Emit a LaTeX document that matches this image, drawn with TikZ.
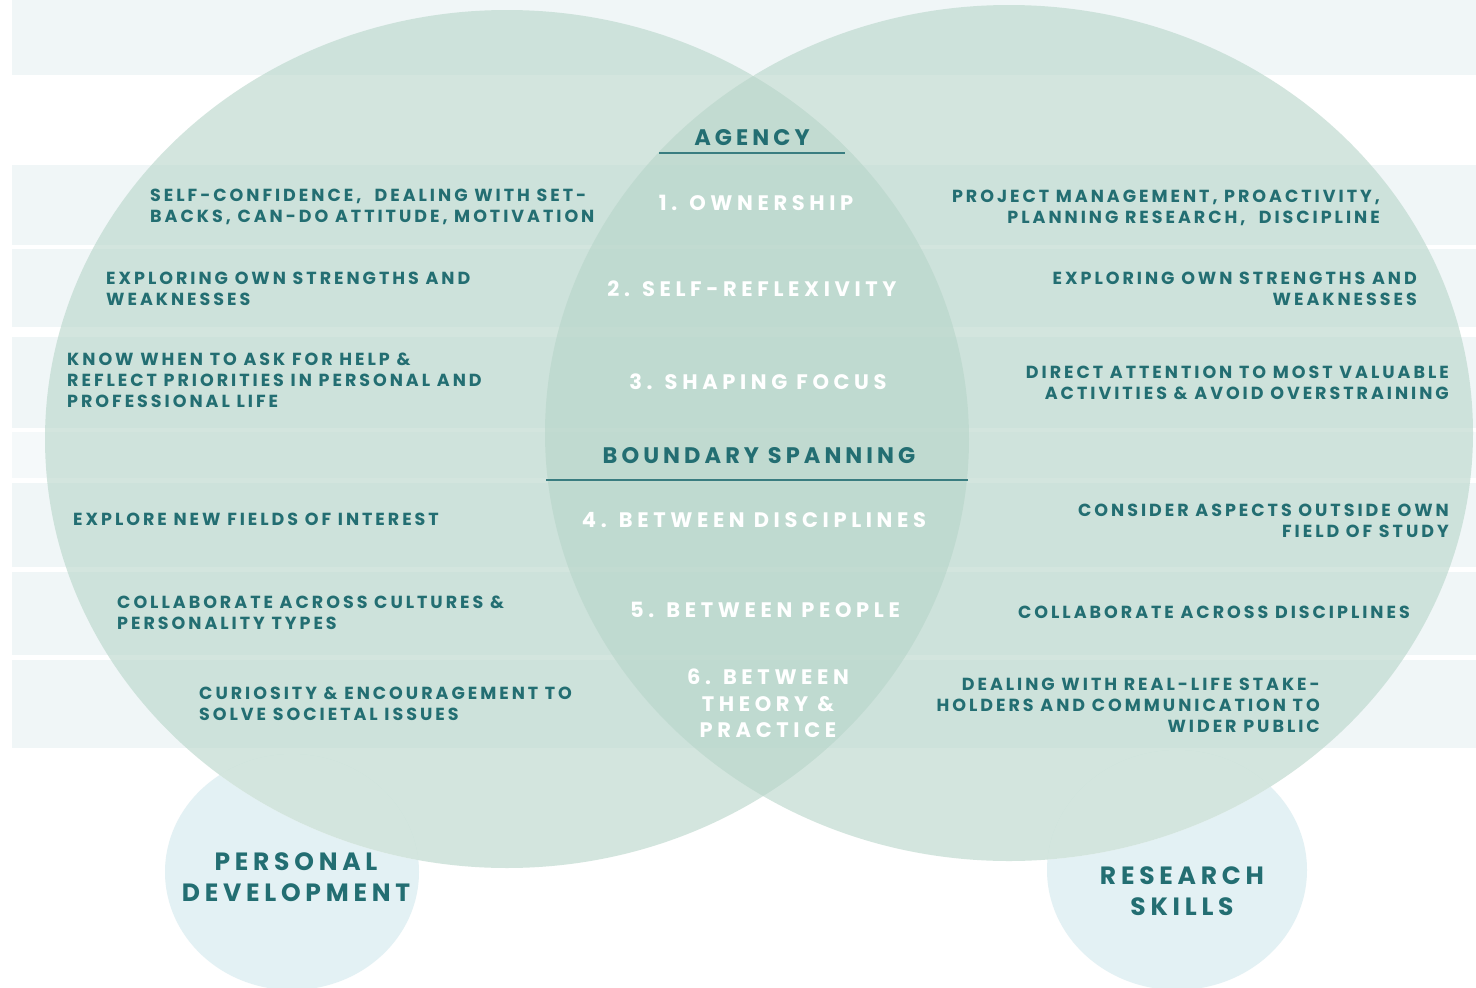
\documentclass[tikz,border=0pt]{standalone}
\usepackage{fontspec}
\setmainfont{Poppins}
\newfontfamily\sidefont[LetterSpace=17]{Poppins}
\newfontfamily\lensfont[LetterSpace=22]{Poppins}
\newfontfamily\headfont[LetterSpace=18]{Poppins}
\newfontfamily\areafont[LetterSpace=19]{Poppins}
\definecolor{tealtext}{HTML}{236E72}
\definecolor{stripe}{HTML}{F0F6F7}
\definecolor{stripelight}{HTML}{F5F9FA}
\definecolor{venncol}{HTML}{B7D5C9}
\definecolor{bubblecol}{HTML}{E3F1F4}
\begin{document}
\begin{tikzpicture}[x=1pt,y=-1pt,
  venn/.style={fill=venncol, fill opacity=0.6},
  bubble/.style={fill=bubblecol},
  rule/.style={draw=tealtext!90, line width=2pt},
  side/.style={font=\sidefont\bfseries\fontsize{17.5}{21}\selectfont, text=tealtext, inner sep=0pt},
  sideL/.style={side, anchor=west, align=left},
  sideR/.style={side, anchor=east, align=right},
  lens/.style={font=\lensfont\bfseries\fontsize{21}{26.5}\selectfont, text=white, inner sep=0pt, align=center},
  head/.style={font=\headfont\bfseries\fontsize{22.5}{26}\selectfont, text=tealtext, inner sep=0pt},
  area/.style={font=\areafont\bfseries\fontsize{25}{31}\selectfont, text=tealtext, inner sep=0pt, align=center}]
 \useasboundingbox (0,0) rectangle (1476,988);
 \fill[white] (0,0) rectangle (1476,988);
 % background bands
 \fill[stripe] (12,0) rectangle (1476,75);
 \foreach \ya/\yb in {165/245, 249/327, 337/428, 483/567, 572/655, 660/748}
   \fill[stripe] (12,\ya) rectangle (1476,\yb);
 \fill[stripelight] (12,432) rectangle (1476,478);
 % small circles, hidden where the big ones lie over them
 \fill[bubble] (292,872) ellipse [x radius=127pt, y radius=118pt];
 \fill[bubble] (1177,870) ellipse [x radius=130pt, y radius=120pt];
 \begin{scope}
  \clip (292,872) ellipse [x radius=127pt, y radius=118pt];
  \fill[white] (507,439) ellipse [x radius=462pt, y radius=429pt];
 \end{scope}
 \begin{scope}
  \clip (1177,870) ellipse [x radius=130pt, y radius=120pt];
  \fill[white] (1009,433) ellipse [x radius=464pt, y radius=428pt];
 \end{scope}
 % big circles
 \fill[venn] (507,439) ellipse [x radius=462pt, y radius=429pt];
 \fill[venn] (1009,433) ellipse [x radius=464pt, y radius=428pt];
 \draw[rule] (659,153) -- (845,153);
 \draw[rule] (546,480) -- (968,480);
 % headings in the overlap
 \node[head] (agency) at (752,138) {AGENCY};
 \node[head] (spanning) at (759,456) {BOUNDARY SPANNING};
 \node[lens] (own) at (756,203) {1. OWNERSHIP};
 \node[lens] (refl) at (752,289) {2. SELF-REFLEXIVITY};
 \node[lens] (focus) at (758,382) {3. SHAPING FOCUS};
 \node[lens] (disc) at (754,520) {4. BETWEEN DISCIPLINES};
 \node[lens] (people) at (765,610) {5. BETWEEN PEOPLE};
 \node[lens] (theory) at (768,703.5) {6. BETWEEN\\THEORY \&\\PRACTICE};
 % personal development side
 \node[sideL] (pd1) at (150,206.5) {SELF-CONFIDENCE,\ \ DEALING WITH SET-\\BACKS, CAN-DO ATTITUDE, MOTIVATION};
 \node[sideL] (pd2) at (106,289) {EXPLORING OWN STRENGTHS AND\\WEAKNESSES};
 \node[sideL] (pd3) at (67,380.5) {KNOW WHEN TO ASK FOR HELP \&\\REFLECT PRIORITIES IN PERSONAL AND\\PROFESSIONAL LIFE};
 \node[sideL] (pd4) at (73,519) {EXPLORE NEW FIELDS OF INTEREST};
 \node[sideL] (pd5) at (117,612.5) {COLLABORATE ACROSS CULTURES \&\\PERSONALITY TYPES};
 \node[sideL] (pd6) at (199,704) {CURIOSITY \& ENCOURAGEMENT TO\\SOLVE SOCIETAL ISSUES};
 % research skills side
 \node[sideR] (rs1) at (1380,207.5) {PROJECT MANAGEMENT, PROACTIVITY,\\PLANNING RESEARCH,\ \ DISCIPLINE};
 \node[sideR] (rs2) at (1417,289) {EXPLORING OWN STRENGTHS AND\\WEAKNESSES};
 \node[sideR] (rs3) at (1449,382.5) {DIRECT ATTENTION TO MOST VALUABLE\\ACTIVITIES \& AVOID OVERSTRAINING};
 \node[sideR] (rs4) at (1449,520.5) {CONSIDER ASPECTS OUTSIDE OWN\\FIELD OF STUDY};
 \node[sideR] (rs5) at (1410,612) {COLLABORATE ACROSS DISCIPLINES};
 \node[sideR] (rs6) at (1320,705.5) {DEALING WITH REAL-LIFE STAKE-\\HOLDERS AND COMMUNICATION TO\\WIDER PUBLIC};
 % circle labels
 \node[area] (personal) at (296,877.5) {PERSONAL\\DEVELOPMENT};
 \node[area] (research) at (1182,891) {RESEARCH\\SKILLS};
\end{tikzpicture}
\end{document}
